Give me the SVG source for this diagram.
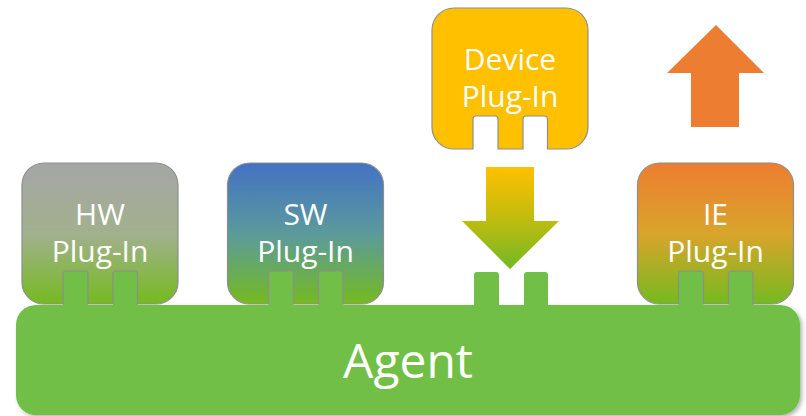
<svg xmlns="http://www.w3.org/2000/svg" width="806" height="416" viewBox="0 0 806 416">
  <style>
    .lbl { font-family: "Open Sans", "Liberation Sans", sans-serif; fill: #FFFFFF; text-anchor: middle; }
    .plug-txt { font-size: 30px; }
    .agent-txt { font-size: 48px; }
    .plug { stroke: #8E8E8E; stroke-width: 1.2; }
    .peg { fill: #71BF46; }
  </style>
  <defs>
    <linearGradient id="gHW" x1="0" y1="0" x2="0" y2="1">
      <stop offset="0" stop-color="#A6A6A6"/>
      <stop offset="0.5" stop-color="#A2B08E"/>
      <stop offset="1" stop-color="#75BA1F"/>
    </linearGradient>
    <linearGradient id="gSW" x1="0" y1="0" x2="0" y2="1">
      <stop offset="0" stop-color="#4472C4"/>
      <stop offset="0.5" stop-color="#5B9A9C"/>
      <stop offset="1" stop-color="#75BA1F"/>
    </linearGradient>
    <linearGradient id="gIE" x1="0" y1="0" x2="0" y2="1">
      <stop offset="0" stop-color="#ED7D31"/>
      <stop offset="0.5" stop-color="#D9A42B"/>
      <stop offset="1" stop-color="#75BA1F"/>
    </linearGradient>
    <linearGradient id="gDown" x1="0" y1="0" x2="0" y2="1">
      <stop offset="0" stop-color="#FFC000"/>
      <stop offset="0.5" stop-color="#C2BC0E"/>
      <stop offset="1" stop-color="#72B824"/>
    </linearGradient>
    <filter id="sh" x="-5%" y="-10%" width="110%" height="130%">
      <feDropShadow dx="2" dy="2" stdDeviation="2" flood-color="#000" flood-opacity="0.3"/>
    </filter>
    <!-- plug body centered at x=0, top at y=0 -->
    <path id="plugShape" d="M -56,0 H 56 A 22,22 0 0 1 78,22 V 119 A 22,22 0 0 1 56,141 H 37.5 V 111 Q 37.5,108 34.5,108 H 16 Q 13,108 13,111 V 141 H -12 V 111 Q -12,108 -15,108 H -34 Q -37,108 -37,111 V 141 H -56 A 22,22 0 0 1 -78,119 V 22 A 22,22 0 0 1 -56,0 Z"/>
  </defs>

  <g id="agent">
    <rect x="16" y="305" width="784" height="110" rx="20" ry="20" fill="#71BF46" filter="url(#sh)"/>
    <g id="agent-pegs">
      <rect class="peg" x="63" y="271" width="25" height="40"/>
      <rect class="peg" x="113" y="271" width="25" height="40"/>
      <rect class="peg" x="268.5" y="271" width="25" height="40"/>
      <rect class="peg" x="318.5" y="271" width="25" height="40"/>
      <path class="peg" d="M 474,310 V 275 Q 474,272 477,272 H 496 Q 499,272 499,275 V 310 Z"/>
      <path class="peg" d="M 524,310 V 275 Q 524,272 527,272 H 545 Q 548,272 548,275 V 310 Z"/>
      <rect class="peg" x="678.5" y="271" width="25" height="40"/>
      <rect class="peg" x="728.5" y="271" width="25" height="40"/>
    </g>
    <text class="lbl agent-txt" x="408" y="378">Agent</text>
  </g>

  <g id="hw-plugin">
    <use href="#plugShape" class="plug" fill="url(#gHW)" transform="translate(100,163)"/>
    <text class="lbl plug-txt" x="100" y="225">HW</text>
    <text class="lbl plug-txt" x="100" y="262">Plug-In</text>
  </g>

  <g id="sw-plugin">
    <use href="#plugShape" class="plug" fill="url(#gSW)" transform="translate(305.5,163)"/>
    <text class="lbl plug-txt" x="305.5" y="225">SW</text>
    <text class="lbl plug-txt" x="305.5" y="262">Plug-In</text>
  </g>

  <g id="device-plugin">
    <use href="#plugShape" class="plug" fill="#FFC000" transform="translate(510,8)"/>
    <text class="lbl plug-txt" x="510" y="70">Device</text>
    <text class="lbl plug-txt" x="510" y="107">Plug-In</text>
  </g>

  <g id="ie-plugin">
    <use href="#plugShape" class="plug" fill="url(#gIE)" transform="translate(715.5,163)"/>
    <text class="lbl plug-txt" x="715.5" y="225">IE</text>
    <text class="lbl plug-txt" x="715.5" y="262">Plug-In</text>
  </g>

  <g id="connectors">
    <path id="arrow-down" d="M 486,167 H 534 V 221 H 559 L 510,269 L 462,221 H 486 Z" fill="url(#gDown)"/>
    <path id="arrow-up" d="M 716,25 L 764,73 H 739 V 127 H 691 V 73 H 667 Z" fill="#ED7D31"/>
  </g>
</svg>
